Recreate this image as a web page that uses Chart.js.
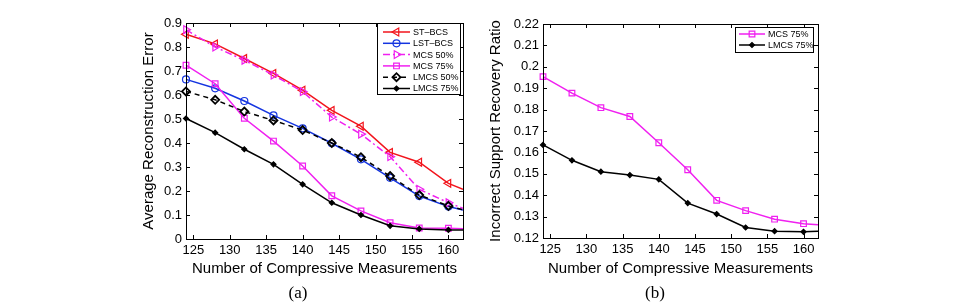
<!DOCTYPE html>
<html>
<head>
<meta charset="utf-8">
<script src="https://cdn.jsdelivr.net/npm/chart.js@4/dist/chart.umd.min.js"></script>
<style>
  body { margin: 0; background: #fff; }
  #wrap { position: relative; width: 964px; height: 306px; overflow: hidden; background: #fff; }
  canvas { position: absolute; top: 0; }
  .cap { position: absolute; top: 283px; font: 17px "Liberation Serif", serif; color: #000; transform: translateX(-50%); }
</style>
</head>
<body>
<div id="wrap">
  <canvas id="chartA" width="482" height="306" style="left:0"></canvas>
  <canvas id="chartB" width="482" height="306" style="left:482px"></canvas>
  <div class="cap" style="left:298px">(a)</div>
  <div class="cap" style="left:655px">(b)</div>
</div>
<script>
// x values (last one is where the lines meet the right edge, no marker there)
const measurements = [124, 128, 132, 136, 140, 144, 148, 152, 156, 160, 162];

// (a) average reconstruction error
const stBcs  = [0.853, 0.813, 0.752, 0.690, 0.620, 0.536, 0.470, 0.361, 0.320, 0.232, 0.207];
const lstBcs = [0.665, 0.628, 0.575, 0.515, 0.461, 0.399, 0.332, 0.255, 0.179, 0.135, 0.121];
const mcs50  = [0.872, 0.800, 0.745, 0.683, 0.614, 0.508, 0.437, 0.343, 0.207, 0.151, 0.128];
const mcs75  = [0.724, 0.647, 0.503, 0.408, 0.304, 0.180, 0.117, 0.068, 0.046, 0.045, 0.043];
const lmcs50 = [0.615, 0.580, 0.531, 0.494, 0.454, 0.400, 0.341, 0.262, 0.183, 0.138, 0.122];
const lmcs75 = [0.502, 0.443, 0.374, 0.311, 0.228, 0.151, 0.100, 0.055, 0.042, 0.038, 0.038];

// (b) incorrect support recovery ratio
const suppMcs75  = [0.1954, 0.1877, 0.1809, 0.1768, 0.1645, 0.1519, 0.1376, 0.1328, 0.1288, 0.1267, 0.1262];
const suppLmcs75 = [0.1635, 0.1563, 0.1510, 0.1494, 0.1474, 0.1363, 0.1312, 0.1249, 0.1232, 0.1229, 0.1231];

// tick labels
const xTicks = [125, 130, 135, 140, 145, 150, 155, 160];
const errTicks = [0, 0.1, 0.2, 0.3, 0.4, 0.5, 0.6, 0.7, 0.8, 0.9];
const ratioTicks = [0.12, 0.13, 0.14, 0.15, 0.16, 0.17, 0.18, 0.19, 0.2, 0.21, 0.22];

const FONT = '"Liberation Sans", Arial, sans-serif';
Chart.defaults.font.family = FONT;
Chart.defaults.color = '#000';

function series(label, values, color, pt, extra) {
    return Object.assign({
        label: label,
        data: values.map((v, i) => ({ x: measurements[i], y: v })),
        borderColor: color,
        pointBorderColor: color,
        pointBackgroundColor: 'rgba(0,0,0,0)',
        borderWidth: 1.5,
        pointBorderWidth: 1.2,
        pointStyle: pt.style,
        pointRotation: pt.rotation || 0,
        pointRadius: ctx => measurements[ctx.dataIndex] > 160 ? 0 : pt.radius,
        _legendRadius: pt.radius,
        tension: 0,
        clip: { left: 8, top: 8, right: 0, bottom: 8 }
    }, extra || {});
}

// box + inward ticks like the matlab axes
const framePlugin = {
    id: 'frame',
    afterDatasetsDraw(chart) {
        const { ctx, chartArea: a, scales } = chart;
        const tl = 4;
        ctx.save();
        ctx.strokeStyle = '#000';
        ctx.lineWidth = 1;
        ctx.beginPath();
        scales.x.ticks.forEach(t => {
            const px = Math.round(scales.x.getPixelForValue(t.value)) + 0.5;
            ctx.moveTo(px, a.bottom); ctx.lineTo(px, a.bottom - tl);
            ctx.moveTo(px, a.top); ctx.lineTo(px, a.top + tl);
        });
        scales.y.ticks.forEach(t => {
            const py = Math.round(scales.y.getPixelForValue(t.value)) + 0.5;
            ctx.moveTo(a.left, py); ctx.lineTo(a.left + tl, py);
            ctx.moveTo(a.right, py); ctx.lineTo(a.right - tl, py);
        });
        ctx.stroke();
        ctx.strokeRect(Math.round(a.left) + 0.5, Math.round(a.top) + 0.5,
            Math.round(a.right - a.left), Math.round(a.bottom - a.top));
        ctx.restore();
    }
};

const boxLegendPlugin = {
    id: 'boxLegend',
    afterDraw(chart, args, o) {
        const { ctx, chartArea: a } = chart;
        const left = a.right - o.right - o.width;
        const top = a.top + o.top;
        ctx.save();
        ctx.fillStyle = '#fff';
        ctx.fillRect(left, top, o.width, o.height);
        ctx.strokeStyle = '#000';
        ctx.lineWidth = 1;
        ctx.strokeRect(Math.round(left) + 0.5, Math.round(top) + 0.5, o.width, o.height);
        chart.data.datasets.forEach((ds, i) => {
            const y = top + o.firstRow + i * o.rowHeight;
            const x0 = left + o.sampleStart, x1 = x0 + o.sampleLen;
            ctx.strokeStyle = ds.borderColor;
            ctx.lineWidth = ds.borderWidth;
            ctx.setLineDash(ds.borderDash || []);
            ctx.beginPath();
            ctx.moveTo(x0, y); ctx.lineTo(x1, y);
            ctx.stroke();
            ctx.setLineDash([]);
            ctx.fillStyle = ds.pointBackgroundColor;
            ctx.strokeStyle = ds.pointBorderColor;
            ctx.lineWidth = ds.pointBorderWidth;
            Chart.helpers.drawPoint(ctx, {
                pointStyle: ds.pointStyle, rotation: ds.pointRotation,
                radius: ds._legendRadius, borderWidth: ds.pointBorderWidth
            }, (x0 + x1) / 2, y);
            ctx.fillStyle = '#000';
            ctx.font = o.fontSize + 'px ' + FONT;
            ctx.textBaseline = 'middle';
            ctx.textAlign = 'left';
            ctx.fillText(ds.label, x1 + 3, y + 0.5);
        });
        ctx.restore();
    }
};

function axes(yMin, yMax, yTickList, yTitle, yWidth, xHeight) {
    return {
        x: {
            type: 'linear', min: 124, max: 162,
            afterBuildTicks: s => { s.ticks = xTicks.map(v => ({ value: v })); },
            afterFit: s => { s.height = xHeight; },
            ticks: { font: { size: 13 }, color: '#000', padding: 4, maxRotation: 0, autoSkip: false },
            grid: { display: false, drawTicks: false },
            border: { display: false },
            title: { display: true, text: 'Number of Compressive Measurements', font: { size: 15 }, color: '#000', padding: { top: 4, bottom: 4 } }
        },
        y: {
            type: 'linear', min: yMin, max: yMax,
            afterBuildTicks: s => { s.ticks = yTickList.map(v => ({ value: v })); },
            afterFit: s => { s.width = yWidth; },
            ticks: { font: { size: 13 }, color: '#000', padding: 4, callback: v => String(v) },
            grid: { display: false, drawTicks: false },
            border: { display: false },
            title: { display: true, text: yTitle, font: { size: 15 }, color: '#000', padding: { top: 4, bottom: 4 } }
        }
    };
}

const red = '#f2141c', blue = '#1434e0', magenta = '#f020f0', black = '#000';

const errSets = [
    series('ST\u2013BCS', stBcs, red, { style: 'triangle', rotation: -90, radius: 4.5 }),
    series('LST\u2013BCS', lstBcs, blue, { style: 'circle', radius: 3.5 }),
    series('MCS 50%', mcs50, magenta, { style: 'triangle', rotation: 90, radius: 4.5 }, { borderDash: [7, 3, 2, 3] }),
    series('MCS 75%', mcs75, magenta, { style: 'rect', radius: 4 }),
    series('LMCS 50%', lmcs50, black, { style: 'rectRot', radius: 4 }, { borderDash: [5, 4], pointBorderWidth: 1.8 }),
    series('LMCS 75%', lmcs75, black, { style: 'rectRot', radius: 2.5 }, { pointBackgroundColor: black })
];
errSets.forEach((d, i) => { d.order = errSets.length - i; });

new Chart(document.getElementById('chartA'), {
    type: 'line',
    data: { datasets: errSets },
    options: {
        responsive: false,
        animation: false,
        layout: { padding: { left: 136, right: 19, top: 23, bottom: 24.6 } },
        scales: axes(0, 0.9, errTicks, 'Average Reconstruction Error', 50, 42.4),
        plugins: {
            legend: { display: false },
            tooltip: { enabled: false },
            boxLegend: { right: 3, top: 0, width: 83, height: 71, firstRow: 9, rowHeight: 11.3, sampleStart: 6, sampleLen: 27, fontSize: 9 }
        }
    },
    plugins: [framePlugin, boxLegendPlugin]
});

const ratioSets = [
    series('MCS 75%', suppMcs75, magenta, { style: 'rect', radius: 4 }),
    series('LMCS 75%', suppLmcs75, black, { style: 'rectRot', radius: 2.5 }, { pointBackgroundColor: black })
];
ratioSets.forEach((d, i) => { d.order = ratioSets.length - i; });

new Chart(document.getElementById('chartB'), {
    type: 'line',
    data: { datasets: ratioSets },
    options: {
        responsive: false,
        animation: false,
        layout: { padding: { left: 0.6, right: 146, top: 24, bottom: 24.1 } },
        scales: axes(0.12, 0.22, ratioTicks, 'Incorrect Support Recovery Ratio', 60.4, 43.9),
        plugins: {
            legend: { display: false },
            tooltip: { enabled: false },
            boxLegend: { right: 5, top: 3, width: 78, height: 25, firstRow: 7, rowHeight: 11, sampleStart: 4, sampleLen: 26, fontSize: 9 }
        }
    },
    plugins: [framePlugin, boxLegendPlugin]
});
</script>
</body>
</html>
